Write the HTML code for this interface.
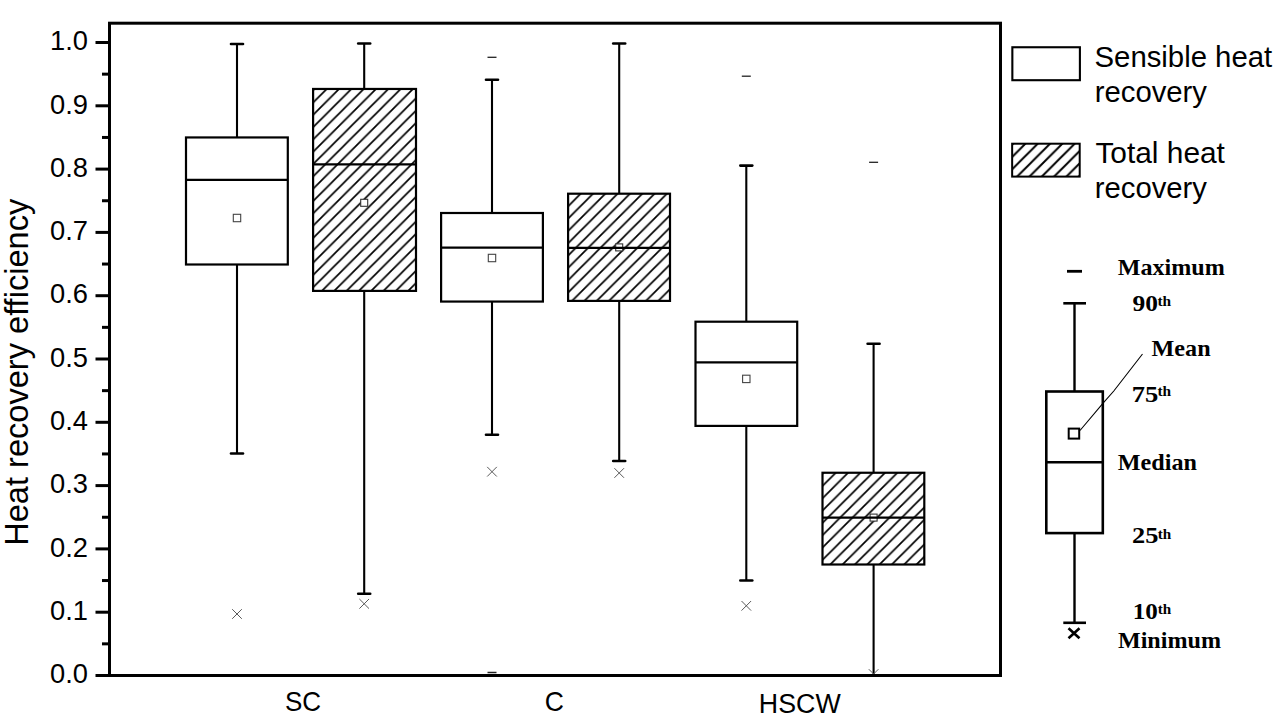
<!DOCTYPE html>
<html><head><meta charset="utf-8"><style>
html,body{margin:0;padding:0;background:#fff;}
body{width:1280px;height:718px;position:relative;overflow:hidden;}
svg{position:absolute;left:0;top:0;}
.t{position:absolute;font-family:"Liberation Sans",sans-serif;color:#000;white-space:nowrap;line-height:1;}
.yl{font-size:27.3px;right:1192px;}
.s{position:absolute;font-family:"Liberation Serif",serif;font-weight:bold;color:#000;white-space:nowrap;line-height:1;font-size:22px;}
.s sup{font-size:12px;vertical-align:0;position:relative;top:-8px;}
</style></head><body>
<svg width="1280" height="718" viewBox="0 0 1280 718"><defs><clipPath id="plotclip"><rect x="109" y="23" width="892" height="652"/></clipPath><pattern id="hp1" patternUnits="userSpaceOnUse" width="12.32" height="12.32" x="403.380" y="0"><path d="M-3.080,3.080 L3.080,-3.080 M0,12.32 L12.32,0 M9.240,15.400 L15.400,9.240" stroke="#000" stroke-width="1.7"/></pattern><pattern id="hp3" patternUnits="userSpaceOnUse" width="12.32" height="12.32" x="762.080" y="0"><path d="M-3.080,3.080 L3.080,-3.080 M0,12.32 L12.32,0 M9.240,15.400 L15.400,9.240" stroke="#000" stroke-width="1.7"/></pattern><pattern id="hp5" patternUnits="userSpaceOnUse" width="12.32" height="12.32" x="1296.180" y="0"><path d="M-3.080,3.080 L3.080,-3.080 M0,12.32 L12.32,0 M9.240,15.400 L15.400,9.240" stroke="#000" stroke-width="1.7"/></pattern><pattern id="hleg" patternUnits="userSpaceOnUse" width="12.32" height="12.32" x="1156.780" y="0"><path d="M-3.080,3.080 L3.080,-3.080 M0,12.32 L12.32,0 M9.240,15.400 L15.400,9.240" stroke="#000" stroke-width="2.0"/></pattern></defs><rect x="109.5" y="23.2" width="891" height="652.3" fill="none" stroke="#000" stroke-width="3"/>
<line x1="95.5" y1="675.50" x2="109.5" y2="675.50" stroke="#000" stroke-width="3"/>
<line x1="95.5" y1="612.20" x2="109.5" y2="612.20" stroke="#000" stroke-width="3"/>
<line x1="95.5" y1="548.90" x2="109.5" y2="548.90" stroke="#000" stroke-width="3"/>
<line x1="95.5" y1="485.60" x2="109.5" y2="485.60" stroke="#000" stroke-width="3"/>
<line x1="95.5" y1="422.30" x2="109.5" y2="422.30" stroke="#000" stroke-width="3"/>
<line x1="95.5" y1="359.00" x2="109.5" y2="359.00" stroke="#000" stroke-width="3"/>
<line x1="95.5" y1="295.70" x2="109.5" y2="295.70" stroke="#000" stroke-width="3"/>
<line x1="95.5" y1="232.40" x2="109.5" y2="232.40" stroke="#000" stroke-width="3"/>
<line x1="95.5" y1="169.10" x2="109.5" y2="169.10" stroke="#000" stroke-width="3"/>
<line x1="95.5" y1="105.80" x2="109.5" y2="105.80" stroke="#000" stroke-width="3"/>
<line x1="95.5" y1="42.50" x2="109.5" y2="42.50" stroke="#000" stroke-width="3"/>
<line x1="102" y1="643.85" x2="109.5" y2="643.85" stroke="#000" stroke-width="3"/>
<line x1="102" y1="580.55" x2="109.5" y2="580.55" stroke="#000" stroke-width="3"/>
<line x1="102" y1="517.25" x2="109.5" y2="517.25" stroke="#000" stroke-width="3"/>
<line x1="102" y1="453.95" x2="109.5" y2="453.95" stroke="#000" stroke-width="3"/>
<line x1="102" y1="390.65" x2="109.5" y2="390.65" stroke="#000" stroke-width="3"/>
<line x1="102" y1="327.35" x2="109.5" y2="327.35" stroke="#000" stroke-width="3"/>
<line x1="102" y1="264.05" x2="109.5" y2="264.05" stroke="#000" stroke-width="3"/>
<line x1="102" y1="200.75" x2="109.5" y2="200.75" stroke="#000" stroke-width="3"/>
<line x1="102" y1="137.45" x2="109.5" y2="137.45" stroke="#000" stroke-width="3"/>
<line x1="102" y1="74.15" x2="109.5" y2="74.15" stroke="#000" stroke-width="3"/>
<line x1="237" y1="44" x2="237" y2="137.45" stroke="#000" stroke-width="2.1"/>
<line x1="237" y1="264.5" x2="237" y2="453.5" stroke="#000" stroke-width="2.1"/>
<line x1="231" y1="44" x2="243" y2="44" stroke="#000" stroke-width="2.6" stroke-linecap="round"/>
<line x1="231" y1="453.5" x2="243" y2="453.5" stroke="#000" stroke-width="2.6" stroke-linecap="round"/>
<rect x="186.0" y="137.45" width="101.80" height="127.05" fill="#fff" stroke="#000" stroke-width="2.2"/>
<line x1="186.0" y1="179.96" x2="287.8" y2="179.96" stroke="#000" stroke-width="2.2"/>
<rect x="233.3" y="214.3" width="7.4" height="7.4" fill="#fff" stroke="#444" stroke-width="1.1"/>
<path clip-path="url(#plotclip)" d="M232.2,609.2 L241.8,618.8 M232.2,618.8 L241.8,609.2" stroke="#5a5a5a" stroke-width="1.0" fill="none"/>
<line x1="364.2" y1="43.5" x2="364.2" y2="88.96" stroke="#000" stroke-width="2.1"/>
<line x1="364.2" y1="290.9" x2="364.2" y2="593.8" stroke="#000" stroke-width="2.1"/>
<line x1="358.2" y1="43.5" x2="370.2" y2="43.5" stroke="#000" stroke-width="2.6" stroke-linecap="round"/>
<line x1="358.2" y1="593.8" x2="370.2" y2="593.8" stroke="#000" stroke-width="2.6" stroke-linecap="round"/>
<rect x="313.1" y="88.96" width="102.90" height="201.94" fill="url(#hp1)" stroke="#000" stroke-width="2.2"/>
<rect x="360.7" y="199.3" width="7" height="7" fill="#fff" stroke="#333" stroke-width="1.1"/>
<line x1="313.1" y1="164.45" x2="416.0" y2="164.45" stroke="#000" stroke-width="2.2"/>
<path clip-path="url(#plotclip)" d="M359.4,599.0 L369.0,608.5999999999999 M359.4,608.5999999999999 L369.0,599.0" stroke="#5a5a5a" stroke-width="1.0" fill="none"/>
<line x1="492" y1="79.8" x2="492" y2="213.0" stroke="#000" stroke-width="2.1"/>
<line x1="492" y1="301.56" x2="492" y2="434.8" stroke="#000" stroke-width="2.1"/>
<line x1="486" y1="79.8" x2="498" y2="79.8" stroke="#000" stroke-width="2.6" stroke-linecap="round"/>
<line x1="486" y1="434.8" x2="498" y2="434.8" stroke="#000" stroke-width="2.6" stroke-linecap="round"/>
<rect x="441.1" y="213.0" width="101.80" height="88.56" fill="#fff" stroke="#000" stroke-width="2.2"/>
<line x1="441.1" y1="247.7" x2="542.9" y2="247.7" stroke="#000" stroke-width="2.2"/>
<rect x="488.3" y="254.3" width="7.4" height="7.4" fill="#fff" stroke="#444" stroke-width="1.1"/>
<path clip-path="url(#plotclip)" d="M487.2,466.9 L496.8,476.5 M487.2,476.5 L496.8,466.9" stroke="#5a5a5a" stroke-width="1.0" fill="none"/>
<line x1="487.5" y1="57.3" x2="496.5" y2="57.3" stroke="#222" stroke-width="1.3"/>
<line x1="487.5" y1="672.5" x2="496.5" y2="672.5" stroke="#222" stroke-width="1.5"/>
<line x1="619.2" y1="43.5" x2="619.2" y2="193.7" stroke="#000" stroke-width="2.1"/>
<line x1="619.2" y1="300.9" x2="619.2" y2="461" stroke="#000" stroke-width="2.1"/>
<line x1="613.2" y1="43.5" x2="625.2" y2="43.5" stroke="#000" stroke-width="2.6" stroke-linecap="round"/>
<line x1="613.2" y1="461" x2="625.2" y2="461" stroke="#000" stroke-width="2.6" stroke-linecap="round"/>
<rect x="568.1" y="193.7" width="101.90" height="107.20" fill="url(#hp3)" stroke="#000" stroke-width="2.2"/>
<rect x="615.7" y="243.9" width="7" height="7" fill="#fff" stroke="#333" stroke-width="1.1"/>
<line x1="568.1" y1="247.9" x2="670.0" y2="247.9" stroke="#000" stroke-width="2.2"/>
<path clip-path="url(#plotclip)" d="M614.4000000000001,468.2 L624.0,477.8 M614.4000000000001,477.8 L624.0,468.2" stroke="#5a5a5a" stroke-width="1.0" fill="none"/>
<line x1="746.3" y1="165.6" x2="746.3" y2="321.7" stroke="#000" stroke-width="2.1"/>
<line x1="746.3" y1="425.9" x2="746.3" y2="580.5" stroke="#000" stroke-width="2.1"/>
<line x1="740.3" y1="165.6" x2="752.3" y2="165.6" stroke="#000" stroke-width="2.6" stroke-linecap="round"/>
<line x1="740.3" y1="580.5" x2="752.3" y2="580.5" stroke="#000" stroke-width="2.6" stroke-linecap="round"/>
<rect x="695.5" y="321.7" width="101.70" height="104.20" fill="#fff" stroke="#000" stroke-width="2.2"/>
<line x1="695.5" y1="362.4" x2="797.2" y2="362.4" stroke="#000" stroke-width="2.2"/>
<rect x="742.5999999999999" y="375.2" width="7.4" height="7.4" fill="#fff" stroke="#444" stroke-width="1.1"/>
<path clip-path="url(#plotclip)" d="M741.5,601.0 L751.0999999999999,610.5999999999999 M741.5,610.5999999999999 L751.0999999999999,601.0" stroke="#5a5a5a" stroke-width="1.0" fill="none"/>
<line x1="741.8" y1="76.2" x2="750.8" y2="76.2" stroke="#222" stroke-width="1.3"/>
<line x1="873.6" y1="343.8" x2="873.6" y2="472.75" stroke="#000" stroke-width="2.1"/>
<line x1="873.6" y1="564.5" x2="873.6" y2="675.5" stroke="#000" stroke-width="2.1"/>
<line x1="867.6" y1="343.8" x2="879.6" y2="343.8" stroke="#000" stroke-width="2.6" stroke-linecap="round"/>
<rect x="822.5" y="472.75" width="101.80" height="91.75" fill="url(#hp5)" stroke="#000" stroke-width="2.2"/>
<rect x="870.1" y="514.1" width="7" height="7" fill="#fff" stroke="#333" stroke-width="1.1"/>
<line x1="822.5" y1="517.6" x2="924.3" y2="517.6" stroke="#000" stroke-width="2.2"/>
<path clip-path="url(#plotclip)" d="M868.8000000000001,669.2 L878.4,678.8 M868.8000000000001,678.8 L878.4,669.2" stroke="#5a5a5a" stroke-width="1.0" fill="none"/>
<line x1="869.1" y1="162.3" x2="878.1" y2="162.3" stroke="#222" stroke-width="1.3"/>
<line x1="108" y1="675.5" x2="1002" y2="675.5" stroke="#000" stroke-width="3"/>
<rect x="1012.35" y="47.25" width="67.55" height="32.95" fill="#fff" stroke="#000" stroke-width="2.1"/>
<rect x="1012.15" y="143.7" width="67.55" height="32.9" fill="url(#hleg)" stroke="#000" stroke-width="2.0"/>
<line x1="1067" y1="271.3" x2="1082" y2="271.3" stroke="#000" stroke-width="2.8"/>
<line x1="1063.3" y1="303.3" x2="1086" y2="303.3" stroke="#000" stroke-width="2.6"/>
<line x1="1074.5" y1="303.3" x2="1074.5" y2="391.5" stroke="#000" stroke-width="2.4"/>
<rect x="1046.3" y="391.5" width="56.5" height="141.6" fill="#fff" stroke="#000" stroke-width="2.6"/>
<line x1="1046.3" y1="462.3" x2="1102.8" y2="462.3" stroke="#000" stroke-width="2.4"/>
<line x1="1074.5" y1="533.1" x2="1074.5" y2="622.8" stroke="#000" stroke-width="2.4"/>
<line x1="1063.3" y1="622.8" x2="1086" y2="622.8" stroke="#000" stroke-width="2.6"/>
<path d="M1068.5,628.3 L1079.5,638.3 M1068.5,638.3 L1079.5,628.3" stroke="#000" stroke-width="2.6"/>
<rect x="1068.7" y="428.6" width="10.5" height="10" fill="#fff" stroke="#000" stroke-width="2"/>
<path d="M1080,430.5 L1103.3,402.8 L1113.8,391 L1142.5,354" stroke="#000" stroke-width="1.1" fill="none"/>
<text transform="translate(1117.82,274.67) scale(1.0562,1)" font-family="Liberation Serif" font-weight="bold" font-size="22.80" fill="#000">Maximum</text>
<text transform="translate(1151.52,355.57) scale(1.0610,1)" font-family="Liberation Serif" font-weight="bold" font-size="22.80" fill="#000">Mean</text>
<text transform="translate(1117.72,469.67) scale(1.0599,1)" font-family="Liberation Serif" font-weight="bold" font-size="22.80" fill="#000">Median</text>
<text transform="translate(1117.92,648.37) scale(1.0572,1)" font-family="Liberation Serif" font-weight="bold" font-size="22.80" fill="#000">Minimum</text>
<text transform="translate(1132.44,310.84) scale(1.1177,1)" font-family="Liberation Serif" font-weight="bold" font-size="22.80" fill="#000">90</text>
<text transform="translate(1131.81,401.57) scale(1.1647,1)" font-family="Liberation Serif" font-weight="bold" font-size="22.80" fill="#000">75</text>
<text transform="translate(1131.94,543.37) scale(1.1585,1)" font-family="Liberation Serif" font-weight="bold" font-size="22.80" fill="#000">25</text>
<text transform="translate(1132.79,619.44) scale(1.1015,1)" font-family="Liberation Serif" font-weight="bold" font-size="22.80" fill="#000">10</text>
<text transform="translate(1157.49,305.80) scale(1.1168,1)" font-family="Liberation Serif" font-weight="bold" font-size="13.80" fill="#000">th</text>
<text transform="translate(1157.49,396.20) scale(1.1168,1)" font-family="Liberation Serif" font-weight="bold" font-size="13.80" fill="#000">th</text>
<text transform="translate(1157.70,538.50) scale(1.0997,1)" font-family="Liberation Serif" font-weight="bold" font-size="13.80" fill="#000">th</text>
<text transform="translate(1157.70,614.30) scale(1.0997,1)" font-family="Liberation Serif" font-weight="bold" font-size="13.80" fill="#000">th</text>
<text transform="translate(1094.53,66.71) scale(1.0011,1)" font-family="Liberation Sans" font-weight="normal" font-size="29.30" fill="#000">Sensible heat</text>
<text transform="translate(1094.75,102.25) scale(0.9994,1)" font-family="Liberation Sans" font-weight="normal" font-size="29.30" fill="#000">recovery</text>
<text transform="translate(1095.40,162.91) scale(1.0199,1)" font-family="Liberation Sans" font-weight="normal" font-size="29.30" fill="#000">Total heat</text>
<text transform="translate(1094.75,198.25) scale(0.9994,1)" font-family="Liberation Sans" font-weight="normal" font-size="29.30" fill="#000">recovery</text>
<text transform="translate(284.90,710.93) scale(0.9559,1)" font-family="Liberation Sans" font-weight="normal" font-size="27.20" fill="#000">SC</text>
<text transform="translate(544.77,710.83) scale(0.9746,1)" font-family="Liberation Sans" font-weight="normal" font-size="27.20" fill="#000">C</text>
<text transform="translate(758.86,712.73) scale(0.9853,1)" font-family="Liberation Sans" font-weight="normal" font-size="27.20" fill="#000">HSCW</text></svg>
<div class="t yl" style="top:660.2px">0.0</div>
<div class="t yl" style="top:596.9px">0.1</div>
<div class="t yl" style="top:533.6px">0.2</div>
<div class="t yl" style="top:470.3px">0.3</div>
<div class="t yl" style="top:407.0px">0.4</div>
<div class="t yl" style="top:343.7px">0.5</div>
<div class="t yl" style="top:280.4px">0.6</div>
<div class="t yl" style="top:217.1px">0.7</div>
<div class="t yl" style="top:153.8px">0.8</div>
<div class="t yl" style="top:90.5px">0.9</div>
<div class="t yl" style="top:27.2px">1.0</div>
<div class="t" style="font-size:32.6px;left:-163px;top:355.5px;transform:rotate(-90deg);transform-origin:center;width:360px;text-align:center">Heat recovery efficiency</div>
</body></html>
